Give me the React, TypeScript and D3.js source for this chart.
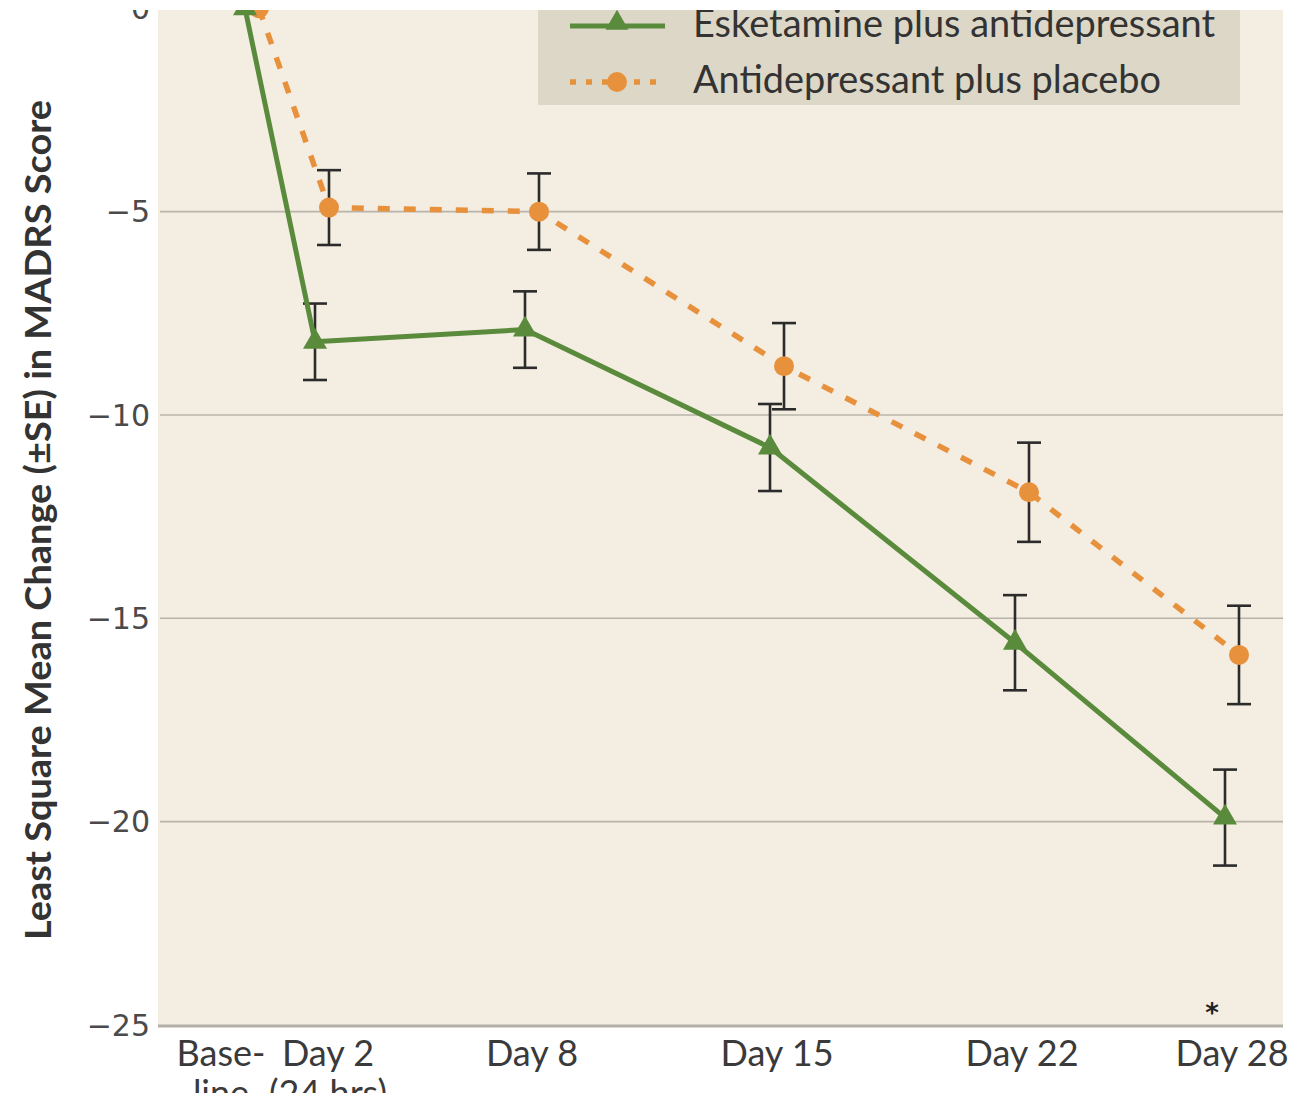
import React from "react";
import * as d3 from "d3";

const days = [0, 2, 8, 15, 22, 28];
const xLabelsTop = ["Base-", "Day 2", "Day 8", "Day 15", "Day 22", "Day 28"];
const xLabelsBottom = ["line", "(24 hrs)", "", "", "", ""];
const esketamine = [0, -8.2, -7.9, -10.8, -15.6, -19.9];
const esketamineSE = [0, 0.94, 0.94, 1.07, 1.17, 1.18];
const placebo = [0, -4.9, -5.0, -8.8, -11.9, -15.9];
const placeboSE = [0, 0.92, 0.94, 1.06, 1.22, 1.21];
const yTicks = [0, -5, -10, -15, -20, -25];
const seriesNames = ["Esketamine plus antidepressant", "Antidepressant plus placebo"];
const significant = [false, false, false, false, false, true];

const W = 1316;
const H = 1093;
const GREEN = "#5a8b3c";
const ORANGE = "#e8913d";
const PANEL = "#f4ede2";
const LEGEND_BG = "#dcd7c6";
const GRID = "#b9b4aa";
const INK = "#2b2b2b";

export default function App() {
  const x = d3.scaleLinear().domain([0, 28]).range([252, 1232]);
  const y = d3.scaleLinear().domain([0, -25]).range([8.3, 1025]);
  const dodge = 7;
  const panelL = 158;
  const panelR = 1283;

  const lineG = d3
    .line<number>()
    .x((_, i) => x(days[i]) - dodge)
    .y((v) => y(v));
  const lineO = d3
    .line<number>()
    .x((_, i) => x(days[i]) + dodge)
    .y((v) => y(v));
  const tri = d3.symbol(d3.symbolTriangle, 250)() as string;
  const triLeg = d3.symbol(d3.symbolTriangle, 230)() as string;

  const errBar = (cx: number, v: number, se: number, key: string) => {
    if (se <= 0) return null;
    const y1 = y(v + se);
    const y2 = y(v - se);
    return (
      <g key={key} stroke={INK} strokeWidth={2.6} fill="none">
        <line x1={cx} x2={cx} y1={y1} y2={y2} />
        <line x1={cx - 12} x2={cx + 12} y1={y1} y2={y1} />
        <line x1={cx - 12} x2={cx + 12} y1={y2} y2={y2} />
      </g>
    );
  };

  return (
    <svg
      width={W}
      height={H}
      style={{ position: "absolute", left: 0, top: 0, background: "#fff" }}
    >
      <rect x={0} y={0} width={W} height={H} fill="#fff" />
      <rect x={panelL} y={0} width={panelR - panelL} height={y(-25) - 0} fill={PANEL} />

      {/* grid lines */}
      {yTicks.slice(1, -1).map((t) => (
        <line
          key={t}
          x1={panelL + 2}
          x2={panelR}
          y1={y(t)}
          y2={y(t)}
          stroke={GRID}
          strokeWidth={1.6}
        />
      ))}
      {/* bottom axis */}
      <line
        x1={panelL}
        x2={panelR}
        y1={y(-25) + 1}
        y2={y(-25) + 1}
        stroke="#b4b0a8"
        strokeWidth={3}
      />

      {/* y tick labels */}
      {yTicks.map((t) => (
        <text
          key={t}
          x={150}
          y={y(t)}
          dy="0.36em"
          textAnchor="end"
          fontFamily="DejaVu Sans"
          fontSize={30}
          fill="#4a4a4a"
        >
          {t === 0 ? "0" : "\u2212" + Math.abs(t)}
        </text>
      ))}

      {/* y title */}
      <text
        transform={`translate(51,${520}) rotate(-90)`}
        textAnchor="middle"
        fontFamily="Lato"
        fontWeight={700}
        fontSize={36}
        textLength={840}
        lengthAdjust="spacingAndGlyphs"
        fill="#333"
      >
        Least Square Mean Change (±SE) in MADRS Score
      </text>

      {/* x labels */}
      {days.map((d, i) => {
        const cx = i === 0 ? x(d) - 31 : i === 1 ? x(d) + 6 : x(d);
        return (
          <g key={d} fontFamily="Lato" fontSize={36} fill="#3a3a3a" textAnchor="middle">
            <text x={cx} y={1066}>
              {xLabelsTop[i]}
            </text>
            {xLabelsBottom[i] && (
              <text x={cx} y={1106}>
                {xLabelsBottom[i]}
              </text>
            )}
          </g>
        );
      })}

      {/* significance */}
      {days.map((d, i) =>
        significant[i] ? (
          <text
            key={"s" + d}
            x={x(d) - 20}
            y={1022}
            textAnchor="middle"
            fontFamily="DejaVu Sans"
            fontWeight={700}
            fontSize={26}
            fill="#222"
          >
            *
          </text>
        ) : null
      )}

      {/* error bars */}
      {placebo.map((v, i) => errBar(x(days[i]) + dodge, v, placeboSE[i], "eo" + i))}
      {esketamine.map((v, i) => errBar(x(days[i]) - dodge, v, esketamineSE[i], "eg" + i))}

      {/* lines */}
      <path d={lineO(placebo) as string} fill="none" stroke={ORANGE} strokeWidth={5.5} strokeDasharray="12,14" />
      <path d={lineG(esketamine) as string} fill="none" stroke={GREEN} strokeWidth={5} strokeLinejoin="round" />

      {/* markers */}
      {placebo.map((v, i) => (
        <circle key={"o" + i} cx={x(days[i]) + dodge} cy={y(v)} r={10} fill={ORANGE} />
      ))}
      {esketamine.map((v, i) => (
        <path
          key={"g" + i}
          d={tri}
          transform={`translate(${x(days[i]) - dodge},${y(v)})`}
          fill={GREEN}
        />
      ))}

      {/* legend */}
      <rect x={538} y={0} width={702} height={105} fill={LEGEND_BG} />
      <line x1={570} x2={665} y1={26} y2={26} stroke={GREEN} strokeWidth={5} />
      <path d={triLeg} transform="translate(617,23)" fill={GREEN} />
      <text x={693} y={37} fontFamily="Lato" fontSize={38} textLength={522} lengthAdjust="spacingAndGlyphs" fill="#333">
        {seriesNames[0]}
      </text>
      <line
        x1={570}
        x2={665}
        y1={82}
        y2={82}
        stroke={ORANGE}
        strokeWidth={5.5}
        strokeDasharray="6,10"
      />
      <circle cx={617} cy={82} r={10} fill={ORANGE} />
      <text x={693} y={93} fontFamily="Lato" fontSize={38} textLength={468} lengthAdjust="spacingAndGlyphs" fill="#333">
        {seriesNames[1]}
      </text>

      {/* top crop strip */}
      <rect x={0} y={0} width={W} height={10} fill="#fff" />
    </svg>
  );
}
